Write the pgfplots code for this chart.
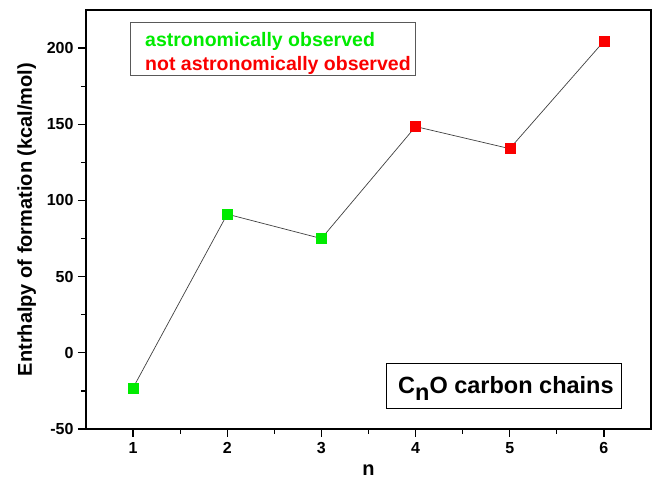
\documentclass[border=0pt]{standalone}
\usepackage{pgfplots}
\pgfplotsset{compat=1.18}
\usepackage{fontspec}
\setmainfont{Liberation Sans}
\definecolor{obsgreen}{RGB}{0,235,0}
\definecolor{obsred}{RGB}{250,0,0}
\begin{document}
\begin{tikzpicture}
\begin{axis}[
  at={(0pt,0pt)}, anchor=south west,
  width=565pt, height=419pt, scale only axis,
  xmin=0.5, xmax=6.5, ymin=-50, ymax=225,
  xtick={1,2,3,4,5,6}, ytick={-50,0,50,100,150,200},
  minor x tick num=1, minor y tick num=1,
  tick align=outside, tick pos=left,
  major tick length=8pt, minor tick length=5pt,
  axis line style={line width=1.8pt},
  tick style={line width=1.3pt, black},
  /pgf/number format/assume math mode=true,
  tick label style={font=\fontsize{16}{19}\selectfont\bfseries},
  yticklabel style={xshift=-1pt},
  xticklabel style={yshift=-2pt},
  xlabel={n}, ylabel={Entrhalpy of formation (kcal/mol)},
  label style={font=\fontsize{20}{24}\selectfont\bfseries},
  xlabel style={at={(axis description cs:0.5,-0.112)}, anchor=base},
  ylabel style={at={(axis description cs:-0.0956,0.5)}, anchor=base, rotate=0},
]
\addplot[color=black!75, line width=0.7pt, mark=none]
  coordinates {(1,-23) (2,91) (3,75) (4,148.5) (5,134) (6,204.5)};
\addplot[only marks, mark=square*, mark size=5pt, color=obsgreen, fill=obsgreen]
  coordinates {(1,-23) (2,91) (3,75)};
\addplot[only marks, mark=square*, mark size=5pt, color=obsred, fill=obsred]
  coordinates {(4,148.5) (5,134) (6,204.5)};
\end{axis}
\draw[black!65, line width=0.9pt] (44.5pt,354pt) rectangle (329pt,407pt);
\node[anchor=base west, inner sep=0pt, text=obsgreen, font=\fontsize{19.5}{22}\selectfont\bfseries] at (59pt,382pt) {astronomically observed};
\node[anchor=base west, inner sep=0pt, text=obsred, font=\fontsize{19.5}{22}\selectfont\bfseries] at (59pt,358pt) {not astronomically observed};
\draw[black, line width=0.9pt] (300pt,21pt) rectangle (535pt,66pt);
\node[anchor=base west, inner sep=0pt, font=\fontsize{23.5}{28}\selectfont\bfseries] at (312pt,35pt) {C\raisebox{-7pt}{n}O carbon chains};
\pgfresetboundingbox
\path[use as bounding box] (-86pt,-50pt) rectangle (571pt,429pt);
\end{tikzpicture}
\end{document}
